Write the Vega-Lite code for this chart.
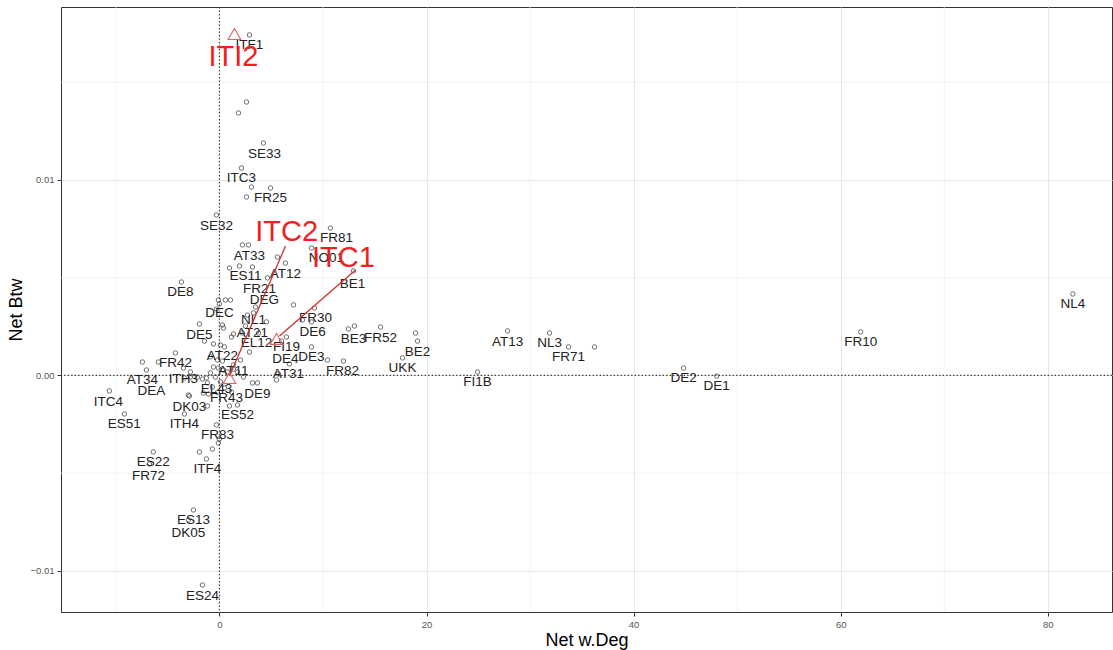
{
  "$schema": "https://vega.github.io/schema/vega-lite/v6.json",
  "width": 1051,
  "height": 605,
  "autosize": {"type": "none"},
  "padding": {"left": 61, "top": 7, "right": 1, "bottom": 38},
  "background": "white",
  "config": {
    "view": {"stroke": "#333333", "strokeWidth": 1},
    "font": "Liberation Sans",
    "axis": {
      "domain": false,
      "tickSize": 4,
      "tickColor": "#333333",
      "labelFontSize": 9.5,
      "labelColor": "#555555",
      "labelPadding": 3,
      "titleFontSize": 18,
      "titleFontWeight": "normal",
      "titleColor": "#000000",
      "grid": true,
      "gridColor": "#e6e6e6"
    },
    "axisX": {"titlePadding": 3},
    "axisY": {"titlePadding": 4}
  },
  "datasets": {
    "points": [
      {"x": 2.90, "y": 0.01742}, {"x": 2.61, "y": 0.01399}, {"x": 1.84, "y": 0.01343}, {"x": 4.25, "y": 0.01189},
      {"x": 2.13, "y": 0.01061}, {"x": 3.09, "y": 0.00964}, {"x": 4.93, "y": 0.00959}, {"x": 2.61, "y": 0.00913},
      {"x": -0.29, "y": 0.00821}, {"x": 2.22, "y": 0.00668}, {"x": 2.80, "y": 0.00668}, {"x": 10.72, "y": 0.00754},
      {"x": 8.89, "y": 0.00652}, {"x": 5.60, "y": 0.00606}, {"x": 6.38, "y": 0.00575}, {"x": 0.97, "y": 0.00550},
      {"x": 1.93, "y": 0.00560}, {"x": 3.19, "y": 0.00555}, {"x": 12.95, "y": 0.00535}, {"x": 4.64, "y": 0.00499},
      {"x": -3.67, "y": 0.00478}, {"x": -0.10, "y": 0.00386}, {"x": 0.58, "y": 0.00386}, {"x": 1.06, "y": 0.00386},
      {"x": 7.15, "y": 0.00361}, {"x": 3.48, "y": 0.00350}, {"x": 9.18, "y": 0.00345}, {"x": -0.29, "y": 0.00340},
      {"x": 0.00, "y": 0.00366}, {"x": -1.93, "y": 0.00263}, {"x": 0.29, "y": 0.00258}, {"x": 0.39, "y": 0.00243},
      {"x": 4.54, "y": 0.00274}, {"x": 8.89, "y": 0.00274}, {"x": 8.02, "y": 0.00284}, {"x": 12.46, "y": 0.00238},
      {"x": 13.04, "y": 0.00253}, {"x": 15.56, "y": 0.00248}, {"x": 2.71, "y": 0.00309}, {"x": 2.51, "y": 0.00253},
      {"x": -1.45, "y": 0.00176}, {"x": 1.35, "y": 0.00212}, {"x": 1.16, "y": 0.00197}, {"x": 2.22, "y": 0.00217},
      {"x": 3.77, "y": 0.00217}, {"x": -0.58, "y": 0.00161}, {"x": 0.10, "y": 0.00156}, {"x": 0.48, "y": 0.00146},
      {"x": 2.90, "y": 0.00120}, {"x": 6.47, "y": 0.00197}, {"x": 5.99, "y": 0.00176}, {"x": 8.89, "y": 0.00146},
      {"x": 10.43, "y": 0.00079}, {"x": 6.76, "y": 0.00059}, {"x": 11.98, "y": 0.00074}, {"x": 5.51, "y": -0.00023},
      {"x": 5.70, "y": 0.00008}, {"x": 17.68, "y": 0.00090}, {"x": 18.94, "y": 0.00217}, {"x": 19.13, "y": 0.00176},
      {"x": 3.19, "y": -0.00038}, {"x": 3.67, "y": -0.00038}, {"x": -4.25, "y": 0.00115}, {"x": 2.03, "y": 0.00079},
      {"x": -5.89, "y": 0.00069}, {"x": -7.44, "y": 0.00069}, {"x": -7.05, "y": 0.00028}, {"x": -3.48, "y": 0.00038},
      {"x": -0.87, "y": 0.00095}, {"x": -0.19, "y": 0.00079}, {"x": 0.29, "y": 0.00074}, {"x": -0.58, "y": 0.00043},
      {"x": -0.10, "y": 0.00038}, {"x": 0.39, "y": 0.00028}, {"x": -0.87, "y": 0.00013}, {"x": -0.39, "y": -0.00008},
      {"x": 0.10, "y": -0.00033}, {"x": -1.26, "y": -0.00013}, {"x": -1.64, "y": -0.00018}, {"x": -2.13, "y": -0.00008},
      {"x": -2.80, "y": -0.00008}, {"x": -3.38, "y": -0.00013}, {"x": 1.35, "y": 0.00054}, {"x": 1.74, "y": 0.00018},
      {"x": 2.32, "y": -0.00008}, {"x": 0.77, "y": 0.00018}, {"x": 1.35, "y": 0.00033}, {"x": -1.16, "y": -0.00038},
      {"x": -0.68, "y": -0.00059}, {"x": -1.55, "y": -0.00090}, {"x": -1.16, "y": -0.00156}, {"x": -3.00, "y": -0.00100},
      {"x": -10.63, "y": -0.00079}, {"x": -2.90, "y": -0.00105}, {"x": -1.06, "y": -0.00095}, {"x": 0.97, "y": -0.00156},
      {"x": 1.74, "y": -0.00151}, {"x": -9.18, "y": -0.00197}, {"x": -3.38, "y": -0.00197}, {"x": -0.29, "y": -0.00253},
      {"x": 0.00, "y": -0.00325}, {"x": -0.10, "y": -0.00345}, {"x": -0.68, "y": -0.00376}, {"x": -1.93, "y": -0.00391},
      {"x": -1.26, "y": -0.00427}, {"x": -6.38, "y": -0.00391}, {"x": -6.76, "y": -0.00453}, {"x": -2.51, "y": -0.00688},
      {"x": -3.00, "y": -0.00739}, {"x": -1.64, "y": -0.01072}, {"x": 27.83, "y": 0.00228}, {"x": 31.88, "y": 0.00217},
      {"x": 33.72, "y": 0.00146}, {"x": 36.23, "y": 0.00146}, {"x": 24.93, "y": 0.00018}, {"x": 44.83, "y": 0.00038},
      {"x": 48.02, "y": -0.00003}, {"x": 61.93, "y": 0.00223}, {"x": 82.42, "y": 0.00417}, {"x": 3.29, "y": 0.00320},
      {"x": 0.48, "y": -0.00064}, {"x": 1.16, "y": -0.00085}, {"x": -0.19, "y": -0.00087}, {"x": -2.80, "y": 0.00018}
    ],
    "labels": [
      {"name": "ITF1", "x": 2.90, "y": 0.01691}, {"name": "SE33", "x": 4.35, "y": 0.01133}, {"name": "ITC3", "x": 2.13, "y": 0.01010},
      {"name": "FR25", "x": 4.93, "y": 0.00908}, {"name": "SE32", "x": -0.29, "y": 0.00765}, {"name": "FR81", "x": 11.30, "y": 0.00703},
      {"name": "AT33", "x": 2.90, "y": 0.00611}, {"name": "NO01", "x": 10.34, "y": 0.00601}, {"name": "ES11", "x": 2.51, "y": 0.00509},
      {"name": "AT12", "x": 6.38, "y": 0.00519}, {"name": "BE1", "x": 12.85, "y": 0.00468}, {"name": "FR21", "x": 3.86, "y": 0.00442},
      {"name": "DE8", "x": -3.77, "y": 0.00427}, {"name": "DEG", "x": 4.35, "y": 0.00386}, {"name": "DEC", "x": 0.00, "y": 0.00320},
      {"name": "FR30", "x": 9.28, "y": 0.00294}, {"name": "NL1", "x": 3.29, "y": 0.00284}, {"name": "DE5", "x": -1.93, "y": 0.00207},
      {"name": "AT21", "x": 3.19, "y": 0.00217}, {"name": "DE6", "x": 8.99, "y": 0.00223}, {"name": "BE3", "x": 12.95, "y": 0.00187},
      {"name": "FR52", "x": 15.56, "y": 0.00192}, {"name": "EL12", "x": 3.57, "y": 0.00166}, {"name": "FI19", "x": 6.47, "y": 0.00146},
      {"name": "BE2", "x": 19.13, "y": 0.00120}, {"name": "AT22", "x": 0.29, "y": 0.00100}, {"name": "DE3", "x": 8.89, "y": 0.00095},
      {"name": "DE4", "x": 6.38, "y": 0.00084}, {"name": "FR42", "x": -4.25, "y": 0.00064}, {"name": "UKK", "x": 17.68, "y": 0.00038},
      {"name": "FR82", "x": 11.88, "y": 0.00023}, {"name": "AT11", "x": 1.35, "y": 0.00023}, {"name": "AT31", "x": 6.67, "y": 0.00008},
      {"name": "ITH3", "x": -3.48, "y": -0.00018}, {"name": "AT34", "x": -7.44, "y": -0.00023}, {"name": "EL43", "x": -0.29, "y": -0.00069},
      {"name": "DEA", "x": -6.57, "y": -0.00079}, {"name": "DE9", "x": 3.67, "y": -0.00095}, {"name": "FR43", "x": 0.68, "y": -0.00115},
      {"name": "ITC4", "x": -10.72, "y": -0.00136}, {"name": "DK03", "x": -2.90, "y": -0.00161}, {"name": "ES52", "x": 1.74, "y": -0.00202},
      {"name": "ES51", "x": -9.18, "y": -0.00248}, {"name": "ITH4", "x": -3.38, "y": -0.00248}, {"name": "FR83", "x": -0.19, "y": -0.00304},
      {"name": "ES22", "x": -6.38, "y": -0.00442}, {"name": "ITF4", "x": -1.16, "y": -0.00478}, {"name": "FR72", "x": -6.86, "y": -0.00514},
      {"name": "ES13", "x": -2.51, "y": -0.00739}, {"name": "DK05", "x": -3.00, "y": -0.00806}, {"name": "ES24", "x": -1.64, "y": -0.01128},
      {"name": "AT13", "x": 27.83, "y": 0.00171}, {"name": "NL3", "x": 31.88, "y": 0.00166}, {"name": "FR71", "x": 33.72, "y": 0.00095},
      {"name": "FI1B", "x": 24.93, "y": -0.00033}, {"name": "DE2", "x": 44.83, "y": -0.00013}, {"name": "DE1", "x": 48.02, "y": -0.00054},
      {"name": "FR10", "x": 61.93, "y": 0.00171}, {"name": "NL4", "x": 82.42, "y": 0.00366}
    ],
    "annot": [
      {"name": "ITI2", "x": 1.35, "y": 0.01629},
      {"name": "ITC2", "x": 6.5, "y": 0.00734},
      {"name": "ITC1", "x": 11.98, "y": 0.00601}
    ],
    "tri": [
      {"name": "ITI2", "x": 1.45, "y": 0.01747},
      {"name": "ITC2", "x": 0.97, "y": -0.00013},
      {"name": "ITC1", "x": 5.51, "y": 0.00187}
    ],
    "segs": [
      {"name": "ITC2", "x": 6.38, "y": 0.00662, "x2": 0.97, "y2": -0.00003},
      {"name": "ITC1", "x": 13.14, "y": 0.00540, "x2": 5.80, "y2": 0.00202}
    ],
    "minorx": [{"x": -10}, {"x": 10}, {"x": 30}, {"x": 50}, {"x": 70}],
    "minory": [{"y": -0.005}, {"y": 0.005}, {"y": 0.015}],
    "zerox": [{"x": 0}],
    "zeroy": [{"y": 0}]
  },
  "layer": [
    {
      "data": {"name": "minorx"},
      "mark": {"type": "rule", "stroke": "#f0f0f0", "strokeWidth": 0.8},
      "encoding": {
        "x": {"field": "x", "type": "quantitative", "title": "Net w.Deg", "scale": {"domain": [-15.3, 86.2], "nice": false, "zero": false}, "axis": {"values": [0, 20, 40, 60, 80]}}
      }
    },
    {
      "data": {"name": "minory"},
      "mark": {"type": "rule", "stroke": "#f0f0f0", "strokeWidth": 0.8},
      "encoding": {
        "y": {"field": "y", "type": "quantitative", "title": "Net Btw", "scale": {"domain": [-0.0121, 0.01885], "nice": false, "zero": false}, "axis": {"values": [-0.01, 0, 0.01], "format": ".2f"}}
      }
    },
    {
      "data": {"name": "points"},
      "mark": {"type": "point", "shape": "circle", "filled": false, "stroke": "#4d4d4d", "strokeWidth": 0.8, "size": 20, "opacity": 1},
      "encoding": {
        "x": {"field": "x", "type": "quantitative", "title": "Net w.Deg", "scale": {"domain": [-15.3, 86.2], "nice": false, "zero": false}, "axis": {"values": [0, 20, 40, 60, 80]}},
        "y": {"field": "y", "type": "quantitative", "title": "Net Btw", "scale": {"domain": [-0.0121, 0.01885], "nice": false, "zero": false}, "axis": {"values": [-0.01, 0, 0.01], "format": ".2f"}}
      }
    },
    {
      "data": {"name": "zerox"},
      "mark": {"type": "rule", "stroke": "#333333", "strokeWidth": 1.2, "strokeDash": [1.3, 2.2]},
      "encoding": {
        "x": {"field": "x", "type": "quantitative", "title": "Net w.Deg", "scale": {"domain": [-15.3, 86.2], "nice": false, "zero": false}, "axis": {"values": [0, 20, 40, 60, 80]}}
      }
    },
    {
      "data": {"name": "zeroy"},
      "mark": {"type": "rule", "stroke": "#333333", "strokeWidth": 1.2, "strokeDash": [1.3, 2.2]},
      "encoding": {
        "y": {"field": "y", "type": "quantitative", "title": "Net Btw", "scale": {"domain": [-0.0121, 0.01885], "nice": false, "zero": false}, "axis": {"values": [-0.01, 0, 0.01], "format": ".2f"}}
      }
    },
    {
      "data": {"name": "labels"},
      "mark": {"type": "text", "fontSize": 13.5, "color": "#222222", "align": "center", "baseline": "middle", "font": "Liberation Sans"},
      "encoding": {
        "x": {"field": "x", "type": "quantitative", "title": "Net w.Deg", "scale": {"domain": [-15.3, 86.2], "nice": false, "zero": false}, "axis": {"values": [0, 20, 40, 60, 80]}},
        "y": {"field": "y", "type": "quantitative", "title": "Net Btw", "scale": {"domain": [-0.0121, 0.01885], "nice": false, "zero": false}, "axis": {"values": [-0.01, 0, 0.01], "format": ".2f"}},
        "text": {"field": "name"}
      }
    },
    {
      "data": {"name": "segs"},
      "mark": {"type": "rule", "stroke": "#d03030", "strokeWidth": 1.3},
      "encoding": {
        "x": {"field": "x", "type": "quantitative", "title": "Net w.Deg", "scale": {"domain": [-15.3, 86.2], "nice": false, "zero": false}, "axis": {"values": [0, 20, 40, 60, 80]}},
        "y": {"field": "y", "type": "quantitative", "title": "Net Btw", "scale": {"domain": [-0.0121, 0.01885], "nice": false, "zero": false}, "axis": {"values": [-0.01, 0, 0.01], "format": ".2f"}},
        "x2": {"field": "x2"},
        "y2": {"field": "y2"}
      }
    },
    {
      "data": {"name": "tri"},
      "mark": {"type": "point", "shape": "triangle-up", "filled": false, "stroke": "#e06060", "strokeWidth": 1.1, "size": 160, "opacity": 1},
      "encoding": {
        "x": {"field": "x", "type": "quantitative", "title": "Net w.Deg", "scale": {"domain": [-15.3, 86.2], "nice": false, "zero": false}, "axis": {"values": [0, 20, 40, 60, 80]}},
        "y": {"field": "y", "type": "quantitative", "title": "Net Btw", "scale": {"domain": [-0.0121, 0.01885], "nice": false, "zero": false}, "axis": {"values": [-0.01, 0, 0.01], "format": ".2f"}}
      }
    },
    {
      "data": {"name": "annot"},
      "mark": {"type": "text", "fontSize": 29, "color": "#f01e1e", "align": "center", "baseline": "middle", "font": "Liberation Sans"},
      "encoding": {
        "x": {"field": "x", "type": "quantitative", "title": "Net w.Deg", "scale": {"domain": [-15.3, 86.2], "nice": false, "zero": false}, "axis": {"values": [0, 20, 40, 60, 80]}},
        "y": {"field": "y", "type": "quantitative", "title": "Net Btw", "scale": {"domain": [-0.0121, 0.01885], "nice": false, "zero": false}, "axis": {"values": [-0.01, 0, 0.01], "format": ".2f"}},
        "text": {"field": "name"}
      }
    }
  ]
}
